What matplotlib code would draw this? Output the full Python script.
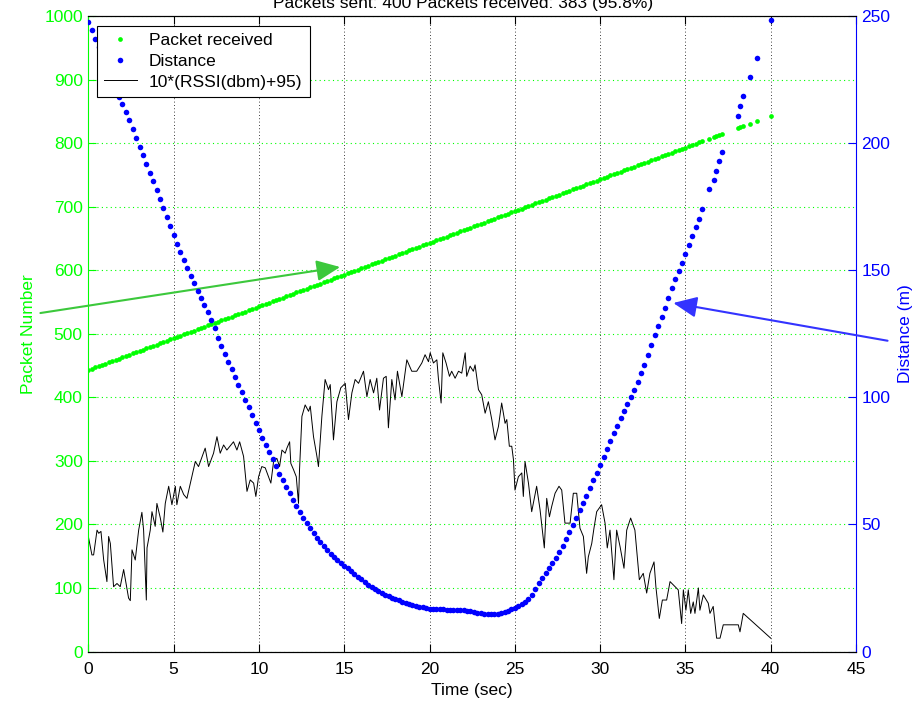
import numpy as np
import matplotlib
matplotlib.use('Agg')
import matplotlib.pyplot as plt
from matplotlib.lines import Line2D

plt.rcParams['font.family'] = ['Liberation Sans', 'DejaVu Sans']
plt.rcParams['font.size'] = 12.5

GREEN = '#00ff00'
BLUE = '#0000ff'

titulo = 'Packets sent: 400 Packets received: 383 (95.8%)'

# tiempos de recepcion (cada 0.2 s) y cola con paquetes perdidos
rx_time = list(np.round(np.arange(0, 36.01, 0.2), 1)) + [
    36.38, 36.67, 36.8, 36.98, 37.16, 38.06, 38.18, 38.37, 38.76, 39.19, 40.0]

# numero de paquete recibido
pkt_num = [
    443, 445, 447, 449, 451, 453, 455, 457, 459, 461,
    463, 465, 467, 469, 471, 473, 475, 477, 479, 481,
    483, 485, 487, 489, 491, 493, 495, 497, 499, 501,
    503, 505, 507, 509, 511, 513, 515, 517, 519, 521,
    523, 525, 527, 529, 531, 533, 535, 537, 539, 541,
    543, 545, 547, 549, 551, 553, 555, 557, 559, 561,
    563, 565, 567, 569, 571, 573, 575, 577, 579, 581,
    583, 585, 587, 589, 591, 593, 595, 597, 599, 601,
    603, 605, 607, 609, 611, 613, 615, 617, 619, 621,
    623, 625, 627, 629, 631, 633, 635, 637, 639, 641,
    643, 645, 647, 649, 651, 653, 655, 657, 659, 661,
    663, 665, 667, 669, 671, 673, 675, 677, 679, 681,
    683, 685, 687, 689, 691, 693, 695, 697, 699, 701,
    703, 705, 707, 709, 711, 713, 715, 717, 719, 721,
    723, 725, 727, 729, 731, 733, 735, 737, 739, 741,
    743, 745, 747, 749, 751, 753, 755, 757, 759, 761,
    763, 765, 767, 769, 771, 773, 775, 777, 779, 781,
    783, 785, 787, 789, 791, 793, 795, 797, 799, 801,
    803,
    806, 809, 810.7, 812.5, 814.5, 823, 825, 826.5, 830, 834.5, 842]

# distancia (m) en los mismos instantes
distancia = [
    247.5, 244.6, 241.0, 237.8, 234.6, 231.4, 228.0, 224.6, 221.2, 218.0,
    215.5, 212.3, 208.9, 205.4, 202.0, 198.6, 195.2, 191.8, 188.4, 185.0,
    181.6, 178.2, 174.6, 171.0, 167.4, 163.8, 160.4, 157.2, 154.0, 150.8,
    147.8, 144.8, 142.0, 139.2, 136.4, 133.5, 130.6, 127.4, 123.3, 120.0,
    117.0, 114.0, 111.0, 108.0, 105.0, 102.0, 99.0, 96.0, 93.0, 90.0,
    87.0, 84.0, 81.2, 78.4, 75.6, 72.8, 70.0, 67.4, 64.8, 62.2,
    59.6, 57.2, 54.8, 52.6, 50.4, 48.4, 46.5, 44.7, 43.0, 41.4,
    39.8, 38.3, 37.1, 36.0, 34.9, 33.8, 32.7, 31.6, 30.5, 29.5,
    28.5, 27.4, 26.2, 25.3, 24.5, 23.7, 23.0, 22.3, 21.7, 21.1,
    20.6, 20.1, 19.6, 19.2, 18.8, 18.4, 18.0, 17.7, 17.4, 17.1,
    16.9, 16.8, 16.7, 16.6, 16.6, 16.5, 16.5, 16.5, 16.4, 16.4,
    16.3, 16.1, 15.8, 15.6, 15.3, 15.1, 14.9, 14.7, 14.6, 14.6,
    14.8, 15.1, 15.5, 16.0, 16.6, 17.2, 17.9, 18.7, 19.4, 20.6,
    22.4, 24.6, 27.0, 29.0, 31.0, 33.0, 35.0, 36.8, 39.0, 41.5,
    44.2, 46.9, 49.7, 52.6, 55.5, 58.3, 61.3, 64.3, 67.3, 70.3,
    73.4, 76.5, 79.6, 82.7, 85.8, 88.9, 91.8, 94.6, 97.4, 100.2,
    103.0, 106.2, 109.4, 112.8, 116.6, 120.4, 124.4, 128.0, 131.4, 135.0,
    139.0, 143.0, 146.6, 149.6, 153.0, 156.4, 160.0, 163.6, 166.8, 170.2,
    174.0,
    182.1, 185.6, 189.2, 192.8, 196.4, 210.8, 214.5, 218.4, 225.9, 233.4, 248.3]

# RSSI escalado: 10*(RSSI(dbm)+95)
rssi_t = [
    0.0, 0.21, 0.31, 0.51, 0.61, 0.74, 0.90, 1.09, 1.19, 1.29,
    1.48, 1.68, 1.87, 2.07, 2.36, 2.46, 2.56, 2.75, 2.95, 3.14,
    3.24, 3.40, 3.44, 3.63, 3.73, 3.92, 4.02, 4.22, 4.37, 4.51,
    4.71, 4.90, 5.10, 5.19, 5.39, 5.59, 5.78, 5.98, 6.27, 6.46,
    6.85, 7.05, 7.34, 7.54, 7.73, 7.93, 8.12, 8.51, 8.71, 8.87,
    9.10, 9.30, 9.49, 9.69, 9.82, 9.98, 10.17, 10.37, 10.56, 10.70,
    10.86, 11.05, 11.21, 11.35, 11.54, 11.64, 11.80, 11.87, 12.03, 12.19,
    12.32, 12.38, 12.52, 12.71, 12.91, 13.01, 13.20, 13.40, 13.49, 13.69,
    13.88, 14.08, 14.18, 14.37, 14.57, 14.80, 15.06, 15.25, 15.45, 15.64,
    15.84, 16.13, 16.33, 16.52, 16.72, 16.91,
    17.07, 17.30, 17.46, 17.59, 17.79, 17.98, 18.12, 18.38, 18.67, 18.96,
    19.25, 19.55, 19.74, 19.94, 20.04, 20.23, 20.43, 20.52, 20.68, 20.78,
    20.97, 21.17, 21.30, 21.50, 21.70, 21.89, 22.09, 22.18, 22.38, 22.57,
    22.67, 22.87, 23.06, 23.26, 23.45, 23.65, 23.84, 24.04, 24.23, 24.43,
    24.53, 24.68, 24.82, 24.92, 25.01, 25.21, 25.41, 25.50, 25.60, 25.80,
    25.99, 26.28, 26.48, 26.73, 26.87, 27.03, 27.16, 27.36, 27.59, 27.75,
    27.94, 28.24, 28.43, 28.63, 28.82, 29.02, 29.21, 29.31, 29.51, 29.64,
    29.80, 30.09, 30.29, 30.42, 30.58, 30.81, 30.97, 31.17, 31.40, 31.56,
    31.79, 32.04, 32.30, 32.53, 32.73, 32.92, 33.16, 33.27, 33.47, 33.65,
    33.90, 34.10, 34.39, 34.58, 34.78, 34.88, 35.03, 35.17, 35.31, 35.46,
    35.56, 35.76, 35.85, 36.05, 36.34, 36.44, 36.63, 36.83, 37.03, 37.22,
    38.10, 38.20, 38.39, 40.0]

rssi_v = [
    181, 152, 152, 191, 186, 189, 144, 110, 181, 170,
    102, 107, 102, 129, 84, 80, 160, 144, 191, 219,
    191, 81, 163, 191, 220, 197, 233, 210, 188, 233,
    260, 231, 260, 231, 260, 247, 241, 265, 299, 291,
    320, 291, 312, 338, 312, 325, 317, 330, 317, 330,
    307, 252, 270, 265, 244, 275, 291, 289, 275, 265,
    299, 304, 291, 317, 312, 320, 330, 296, 286, 275,
    233, 286, 370, 388, 378, 386, 338, 307, 291, 370,
    428, 412, 420, 333, 393, 415, 422, 365, 407, 428,
    422, 441, 401, 428, 407, 430,
    380, 430, 433, 352, 428, 396, 441, 401, 459, 441,
    441, 454, 467, 456, 470, 454, 459, 430, 391, 470,
    454, 433, 441, 430, 441, 438, 470, 433, 449, 441,
    451, 412, 404, 375, 393, 365, 333, 354, 391, 359,
    365, 323, 323, 302, 254, 275, 281, 244, 299, 265,
    220, 260, 223, 163, 241, 212, 228, 249, 260, 254,
    202, 202, 249, 249, 194, 181, 123, 149, 170, 194,
    220, 231, 202, 163, 191, 113, 191, 165, 131, 191,
    210, 191, 113, 123, 92, 123, 141, 102, 52, 81,
    81, 110, 102, 97, 44, 97, 65, 97, 60, 78,
    60, 100, 65, 89, 76, 60, 71, 21, 21, 42,
    42, 31, 60, 21]

fig = plt.figure(figsize=(9.23, 7.01), dpi=100)
ax1 = fig.add_axes([0.0957, 0.0706, 0.8317, 0.9066])
ax2 = ax1.twinx()

# eje izquierdo: paquetes y RSSI
ax1.plot(rx_time, pkt_num, 'o', color=GREEN, ms=3.4, mec='none')
ax1.plot(rssi_t, rssi_v, '-', color='k', lw=0.7)

# eje derecho: distancia
ax2.plot(rx_time, distancia, 'o', color=BLUE, ms=4.0, mec='none')

ax1.set_xlim(0, 45)
ax1.set_ylim(0, 1000)
ax2.set_ylim(0, 250)
ax1.set_xticks(range(0, 46, 5))
ax1.set_yticks(range(0, 1001, 100))
ax2.set_yticks(range(0, 251, 50))

ax1.grid(axis='x', color='k', ls=(0, (1, 3)), lw=0.6)
ax1.grid(axis='y', color=GREEN, ls=(0, (1, 3)), lw=0.8)

ax1.tick_params(axis='x', direction='in', top=True, length=6, colors='k', pad=7.4)
ax1.tick_params(axis='y', direction='in', length=6, colors=GREEN, right=False, pad=4)
ax2.tick_params(axis='y', direction='in', length=6, colors=BLUE, pad=4)

ax1.spines['left'].set_color(GREEN)
ax1.spines['right'].set_visible(False)
ax2.spines['left'].set_visible(False)
ax2.spines['right'].set_color(BLUE)
for ax in (ax1, ax2):
    for s in ax.spines.values():
        s.set_linewidth(0.8)

ax1.set_xlabel('Time (sec)')
ax1.set_ylabel('Packet Number', color=GREEN)
ax2.set_ylabel('Distance (m)', color=BLUE)
ax1.xaxis.set_label_coords(0.5, -0.049)
ax1.yaxis.set_label_coords(-0.068, 0.5)
ax2.yaxis.set_label_coords(1.055, 0.5)

# titulo cortado en el borde superior
fig.text(0.5016, 0.988, titulo, ha='center', va='baseline')

# flechas
ax1.annotate('', xy=(14.76, 605), xytext=(-2.81, 532.6),
             arrowprops=dict(arrowstyle='-|>,head_length=0.9,head_width=0.4',
                             color='#3cc83c', lw=1.5, mutation_scale=16,
                             shrinkA=0, shrinkB=0),
             annotation_clip=False)
ax2.annotate('', xy=(34.29, 137.1), xytext=(46.85, 122.25),
             arrowprops=dict(arrowstyle='-|>,head_length=0.9,head_width=0.4',
                             color='#3333ff', lw=1.5, mutation_scale=16,
                             shrinkA=0, shrinkB=0),
             annotation_clip=False)

handles = [
    Line2D([], [], ls='none', marker='o', color=GREEN, ms=3.4, mec='none'),
    Line2D([], [], ls='none', marker='o', color=BLUE, ms=4.0, mec='none'),
    Line2D([], [], color='k', lw=0.7),
]
labels = ['Packet received', 'Distance', '10*(RSSI(dbm)+95)']
leg = ax2.legend(handles, labels, loc='upper left',
                 bbox_to_anchor=(96.7 / 923, 1 - 26 / 701),
                 bbox_transform=fig.transFigure, borderaxespad=0,
                 fancybox=False, edgecolor='k', framealpha=1,
                 handlelength=1.9, handletextpad=0.69, labelspacing=0.31,
                 borderpad=0.42)
leg.get_frame().set_linewidth(0.8)
leg.set_zorder(10)

plt.savefig('out.png', dpi=100)
